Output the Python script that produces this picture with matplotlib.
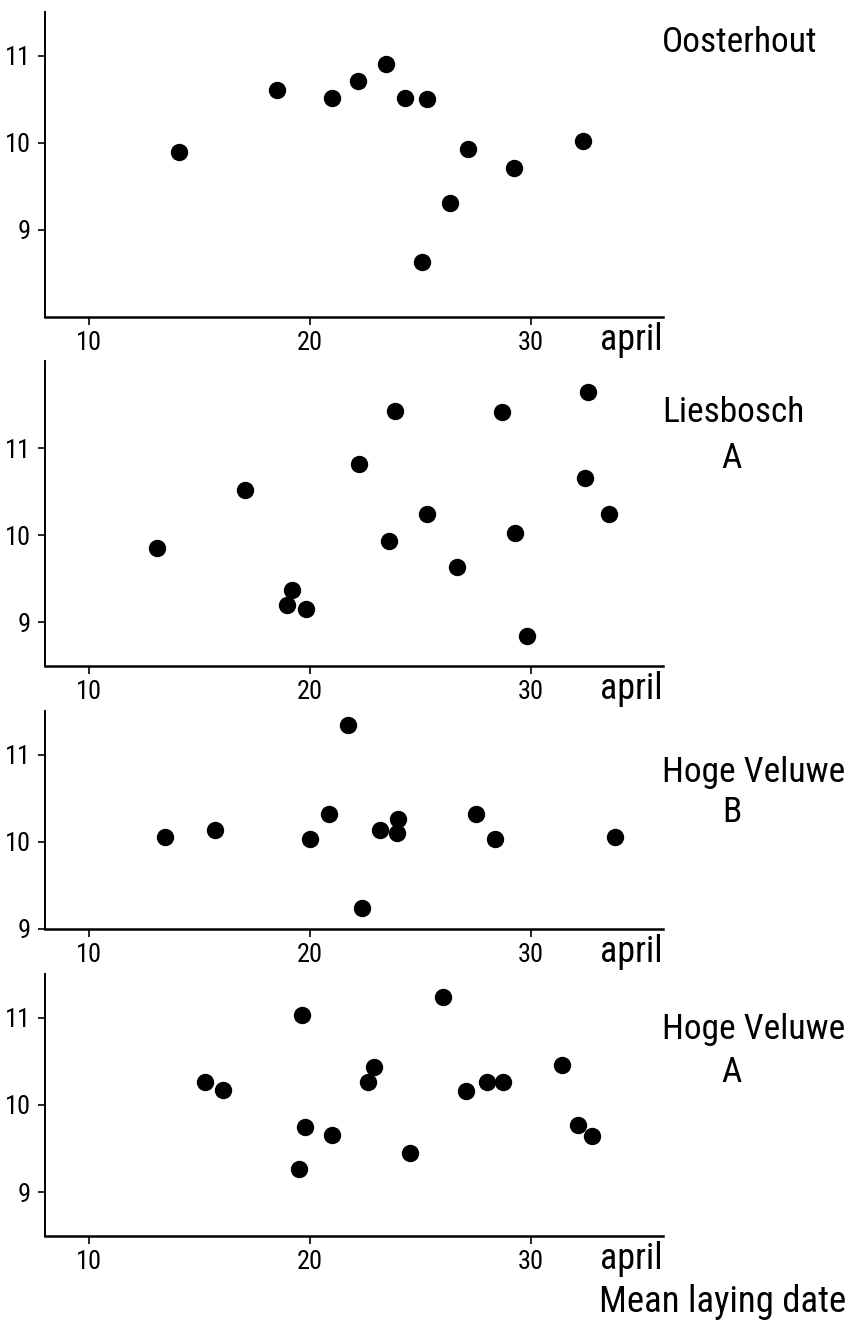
import matplotlib
matplotlib.use("Agg")
import matplotlib.pyplot as plt

plt.rcParams['font.family'] = ['Roboto Condensed', 'DejaVu Sans']
plt.rcParams['font.stretch'] = 'condensed'

# Oosterhout
oost_day = [14.05, 18.53, 21.0, 22.16, 23.44, 24.3, 25.33, 27.17, 26.34, 25.06, 29.26, 32.38]
oost_val = [9.89, 10.61, 10.51, 10.71, 10.90, 10.51, 10.50, 9.93, 9.31, 8.63, 9.71, 10.02]

# Liesbosch A
lies_day = [13.07, 17.05, 18.97, 19.21, 19.83, 22.21, 23.86, 23.59, 25.33, 26.66,
            28.72, 29.29, 29.83, 32.58, 32.46, 33.56]
lies_val = [9.85, 10.52, 9.20, 9.37, 9.15, 10.82, 11.43, 9.94, 10.24, 9.64,
            11.42, 10.03, 8.84, 11.65, 10.66, 10.24]

# Hoge Veluwe B
hvb_day = [13.44, 15.70, 20.02, 20.86, 21.72, 22.36, 23.17, 23.93, 24.0, 27.54, 28.38, 33.83]
hvb_val = [10.05, 10.13, 10.03, 10.32, 11.34, 9.24, 10.14, 10.10, 10.26, 10.32, 10.03, 10.06]

# Hoge Veluwe A
hva_day = [15.23, 16.07, 19.66, 19.78, 19.51, 21.01, 22.65, 22.92, 24.52, 26.02,
           27.08, 28.01, 28.77, 31.42, 32.14, 32.78]
hva_val = [10.26, 10.17, 11.03, 9.75, 9.27, 9.66, 10.26, 10.44, 9.45, 11.24,
           10.16, 10.26, 10.26, 10.46, 9.77, 9.64]

x_ticks = [10, 20, 30]
y_ticks = [9, 10, 11]

W, H = 848, 1325
fig = plt.figure(figsize=(W / 100, H / 100), dpi=100)

def fx(px):
    return px / W

def fy(py):
    return 1 - py / H

panels = [
    (oost_day, oost_val, 12, 317, (8.0, 11.5)),
    (lies_day, lies_val, 361, 666, (8.5, 12.0)),
    (hvb_day, hvb_val, 711, 929, (9.0, 11.5)),
    (hva_day, hva_val, 974, 1236, (8.5, 11.5)),
]

left, right = 45, 663
for days, vals, top, bottom, ylim in panels:
    ax = fig.add_axes([fx(left), fy(bottom), (right - left) / W, (bottom - top) / H])
    ax.plot(days, vals, 'o', color='black', markersize=11.5, clip_on=False)
    ax.set_xlim(8, 36)
    ax.set_ylim(*ylim)
    ax.set_xticks(x_ticks)
    ax.set_yticks(y_ticks)
    ax.spines['top'].set_visible(False)
    ax.spines['right'].set_visible(False)
    ax.spines['left'].set_linewidth(1.4)
    ax.spines['bottom'].set_linewidth(1.8)
    ax.tick_params(axis='x', direction='out', length=6, width=1.2, labelsize=19, pad=4)
    ax.tick_params(axis='y', direction='out', length=5, width=1.2, labelsize=19, pad=5)
    # "april" at the right end of each x axis
    fig.text(fx(right), fy(bottom + 5), "april", ha='right', va='top', fontsize=26)

fig.text(fx(662), fy(43), "Oosterhout", ha='left', va='center', fontsize=25.5)
fig.text(fx(662), fy(413), "Liesbosch", ha='left', va='center', fontsize=25.5)
fig.text(fx(732), fy(458), "A", ha='center', va='center', fontsize=25.5)
fig.text(fx(662), fy(772), "Hoge Veluwe", ha='left', va='center', fontsize=25.5)
fig.text(fx(732), fy(812), "B", ha='center', va='center', fontsize=25.5)
fig.text(fx(662), fy(1030), "Hoge Veluwe", ha='left', va='center', fontsize=25.5)
fig.text(fx(732), fy(1072), "A", ha='center', va='center', fontsize=25.5)
fig.text(fx(846), fy(1302), "Mean laying date", ha='right', va='center', fontsize=26.5)

fig.savefig("out.png", dpi=100, facecolor='white')
